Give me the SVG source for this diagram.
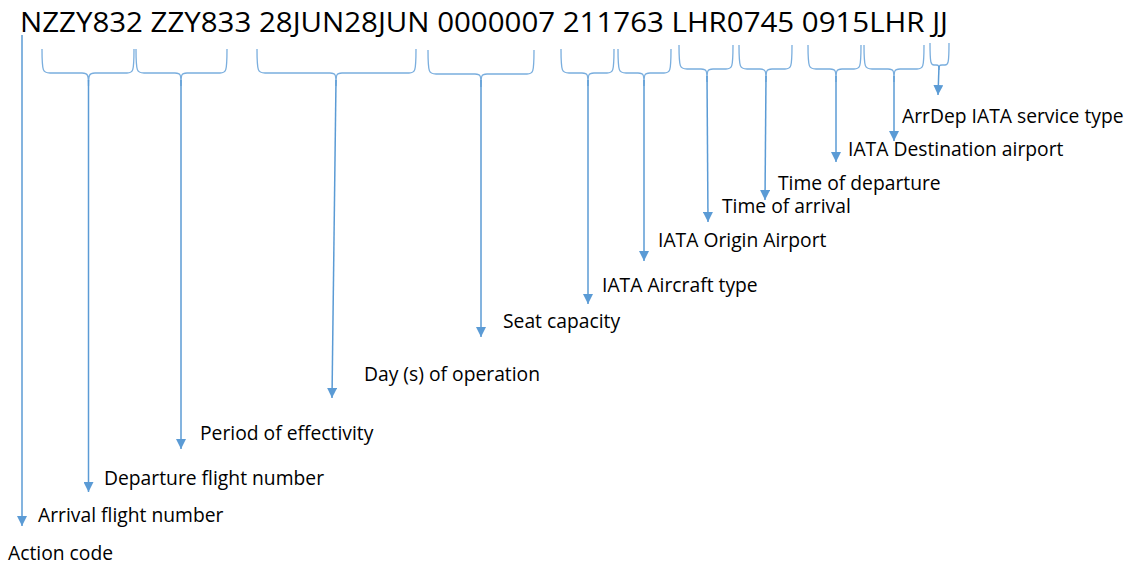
<svg xmlns="http://www.w3.org/2000/svg" width="1126" height="565" viewBox="0 0 1126 565">
<style>
.code{font-family:"Open Sans","Noto Sans",sans-serif;font-size:28px;fill:#000}
.lbl{font-family:"Open Sans","Noto Sans",sans-serif;font-size:19.3px;fill:#000}
.brace{fill:none;stroke:#7AAEDE;stroke-width:1.3}
.arr{fill:none;stroke:#5B9BD5;stroke-width:1.5}
</style>
<defs>
<marker id="ah" markerUnits="userSpaceOnUse" markerWidth="12" markerHeight="10" refX="10" refY="5" orient="auto">
<path d="M0,0 L10,5 L0,10 Z" fill="#5B9BD5"/>
</marker>
</defs>
<rect width="1126" height="565" fill="#fff"/>
<g id="record"><text class="code" x="20" y="32" textLength="928" lengthAdjust="spacingAndGlyphs">NZZY832 ZZY833 28JUN28JUN 0000007 211763 LHR0745 0915LHR JJ</text></g>
<g id="connectors">
<g id="braces">
<path class="brace" d="M42,49 C42,72 43,73 50,73 L82,73 C88,73 88.5,75 88.5,86 C88.5,75 89,73 95,73 L127,73 C133,73 134,72 134,49"/>
<path class="brace" d="M136,49 C136,72 137,73 144,73 L175,73 C181,73 181,75 181,86 C181,75 181,73 187,73 L220,73 C226,73 227,72 227,49"/>
<path class="brace" d="M257,49 C257,72 258,73 265,73 L330,73 C336,73 336,75 336,86 C336,75 336,73 342,73 L409,73 C415,73 416,72 416,49"/>
<path class="brace" d="M428,50 C428,73 429,74 436,74 L475,74 C481,74 481,76 481,87 C481,76 481,74 487,74 L527,74 C533,74 534,73 534,50"/>
<path class="brace" d="M561,49 C561,72 562,73 569,73 L582,73 C588,73 588,75 588,86 C588,75 588,73 594,73 L607,73 C613,73 614,72 614,49"/>
<path class="brace" d="M618,49 C618,72 619,73 626,73 L638,73 C644,73 644,75 644,86 C644,75 644,73 650,73 L664,73 C670,73 671,72 671,49"/>
<path class="brace" d="M679,45 C679,68 680,69 687,69 L701,69 C707,69 707,71 707,82 C707,71 707,69 713,69 L726,69 C732,69 733,68 733,45"/>
<path class="brace" d="M739,45 C739,68 740,69 747,69 L760,69 C766,69 766,71 766,82 C766,71 766,69 772,69 L785,69 C791,69 792,68 792,45"/>
<path class="brace" d="M808,45 C808,68 809,69 816,69 L830,69 C836,69 836,71 836,82 C836,71 836,69 842,69 L854,69 C860,69 861,68 861,45"/>
<path class="brace" d="M864,45 C864,68 865,69 872,69 L888,69 C894,69 894,71 894,82 C894,71 894,69 900,69 L917,69 C923,69 924,68 924,45"/>
<path class="brace" d="M930,43 C930,64 931,65 934,65 L936,65 C939,65 939,66 939,70 C939,66 939,65 942,65 L945,65 C948,65 949,64 949,43"/>
</g>
<g id="arrows">
<line class="arr" x1="22" y1="35" x2="22" y2="526" marker-end="url(#ah)"/>
<line class="arr" x1="88.5" y1="80" x2="88.5" y2="492" marker-end="url(#ah)"/>
<line class="arr" x1="181" y1="80" x2="181" y2="449" marker-end="url(#ah)"/>
<line class="arr" x1="336" y1="80" x2="332" y2="398" marker-end="url(#ah)"/>
<line class="arr" x1="481" y1="80" x2="481" y2="337" marker-end="url(#ah)"/>
<line class="arr" x1="588" y1="80" x2="588" y2="304" marker-end="url(#ah)"/>
<line class="arr" x1="644" y1="80" x2="644" y2="261" marker-end="url(#ah)"/>
<line class="arr" x1="707" y1="76" x2="708" y2="222" marker-end="url(#ah)"/>
<line class="arr" x1="766" y1="76" x2="765" y2="200" marker-end="url(#ah)"/>
<line class="arr" x1="836" y1="76" x2="836" y2="162" marker-end="url(#ah)"/>
<line class="arr" x1="894" y1="76" x2="894" y2="141" marker-end="url(#ah)"/>
<line class="arr" x1="939" y1="66" x2="938" y2="95" marker-end="url(#ah)"/>
</g>
</g>
<g id="n-action"><text class="lbl" x="8" y="560">Action code</text></g>
<g id="n-arrival"><text class="lbl" x="38" y="522">Arrival flight number</text></g>
<g id="n-departure"><text class="lbl" x="104" y="485">Departure flight number</text></g>
<g id="n-period"><text class="lbl" x="200" y="440">Period of effectivity</text></g>
<g id="n-days"><text class="lbl" x="364" y="381">Day (s) of operation</text></g>
<g id="n-seat"><text class="lbl" x="503" y="328">Seat capacity</text></g>
<g id="n-aircraft"><text class="lbl" x="602" y="292">IATA Aircraft type</text></g>
<g id="n-origin"><text class="lbl" x="658" y="247">IATA Origin Airport</text></g>
<g id="n-arr-time"><text class="lbl" x="722" y="213">Time of arrival</text></g>
<g id="n-dep-time"><text class="lbl" x="778" y="190">Time of departure</text></g>
<g id="n-dest"><text class="lbl" x="848" y="156">IATA Destination airport</text></g>
<g id="n-service"><text class="lbl" x="902" y="123">ArrDep IATA service type</text></g>
</svg>
